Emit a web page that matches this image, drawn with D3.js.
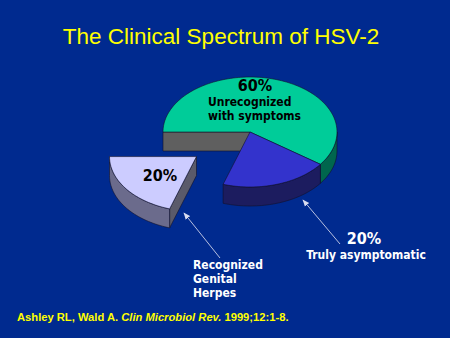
<!DOCTYPE html>
<html>
<head>
<meta charset="utf-8">
<script src="https://cdn.jsdelivr.net/npm/d3@7/dist/d3.min.js"></script>
<style>
  html, body { margin: 0; padding: 0; background: #002a8f; }
  svg { display: block; }
</style>
</head>
<body>
<svg id="chart" width="450" height="338"></svg>
<script>
// Share of HSV-2 infections by clinical presentation
const categories = ["Unrecognized with symptoms", "Truly asymptomatic", "Recognized Genital Herpes"];
const values = [60, 20, 20];
const valueLabels = ["60%", "20%", "20%"];
const exploded = [false, false, true];

// Face colours for each slice: top, outer wall, cut (radial) face
const topColors  = ["#00cc99", "#3333cc", "#ccccff"];
const wallColors = ["#00664d", "#1c1c5f", "#6b6b8c"];
const cutColors  = ["#5f5f5f", "#2a2a60", "#5a5a6a"];

const W = 450, H = 338;
const svg = d3.select("#chart");

svg.append("rect").attr("width", W).attr("height", H).attr("fill", "#002a8f");

// Title
svg.append("text")
  .attr("x", 221).attr("y", 44)
  .attr("text-anchor", "middle")
  .attr("font-family", "'Liberation Sans', Arial, sans-serif")
  .attr("font-size", 22.5)
  .attr("fill", "#ffff00")
  .text("The Clinical Spectrum of HSV-2");

// 3-D pie geometry: a flat circle pie seen at a tilt (ellipse) with thickness
const cx = 250, cy = 132, rx = 87, ry = 55, depth = 19, explodeK = 0.76;

const pie = d3.pie().sort(null).value(d => d)
  .startAngle(Math.PI * 1.5).endAngle(Math.PI * 3.5);
const arcs = pie(values);

// d3 pie angle (0 at 12 o'clock, clockwise) -> parametric ellipse angle
const toT = a => a - Math.PI / 2;
const pt = (ox, oy, t, dz = 0) => [ox + rx * Math.cos(t), oy + ry * Math.sin(t) + dz];

function ellipseArc(ox, oy, t0, t1, dz, steps) {
  const n = steps || Math.max(8, Math.ceil(Math.abs(t1 - t0) / 0.03));
  return d3.range(n + 1).map(i => pt(ox, oy, t0 + (t1 - t0) * i / n, dz));
}

const line = d3.line();
const slices = arcs.map((a, i) => {
  const t0 = toT(a.startAngle), t1 = toT(a.endAngle);
  const mid = (t0 + t1) / 2;
  const ox = cx + (exploded[i] ? Math.cos(mid) * rx * explodeK : 0);
  const oy = cy + (exploded[i] ? Math.sin(mid) * ry * explodeK : 0);
  return { i, t0, t1, mid, ox, oy };
});

const edgeStroke = "#10102a";
const groups = [slices.filter(s => !exploded[s.i]), slices.filter(s => exploded[s.i])];

groups.forEach(group => {
  const g = svg.append("g");
  // radial faces exposed where a neighbour slice has been pulled out
  group.forEach(s => {
    const n = slices.length;
    const prev = slices[(s.i - 1 + n) % n], next = slices[(s.i + 1) % n];
    const faces = [];
    if (exploded[prev.i] !== exploded[s.i] && Math.cos(s.t0) < 0) faces.push(s.t0);
    if (exploded[next.i] !== exploded[s.i] && Math.cos(s.t1) > 0) faces.push(s.t1);
    faces.forEach(t => {
      const p = pt(s.ox, s.oy, t);
      const poly = [[s.ox, s.oy], p, [p[0], p[1] + depth], [s.ox, s.oy + depth]];
      g.append("path").attr("d", line(poly) + "Z")
        .attr("fill", cutColors[s.i]).attr("stroke", edgeStroke).attr("stroke-width", 0.6);
    });
  });
  // outer walls on the front half of the ellipse
  group.forEach(s => {
    [0, 2 * Math.PI].forEach(k => {
      const lo = Math.max(s.t0, k), hi = Math.min(s.t1, k + Math.PI);
      if (hi > lo) {
        const top = ellipseArc(s.ox, s.oy, lo, hi, 0);
        const bot = ellipseArc(s.ox, s.oy, hi, lo, depth);
        g.append("path").attr("d", line(top.concat(bot)) + "Z")
          .attr("fill", wallColors[s.i]).attr("stroke", edgeStroke).attr("stroke-width", 0.6);
      }
    });
  });
  // top faces
  group.forEach(s => {
    const poly = [[s.ox, s.oy]].concat(ellipseArc(s.ox, s.oy, s.t0, s.t1, 0));
    g.append("path").attr("d", line(poly) + "Z")
      .attr("fill", topColors[s.i]).attr("stroke", edgeStroke).attr("stroke-width", 0.6);
  });
});

// Labels
const boldFont = "'DejaVu Sans Condensed', 'DejaVu Sans', Verdana, sans-serif";
function label(x, y, txt, size, fill, anchor) {
  svg.append("text")
    .attr("x", x).attr("y", y)
    .attr("text-anchor", anchor || "start")
    .attr("font-family", boldFont)
    .attr("font-weight", "bold")
    .attr("font-size", size)
    .attr("fill", fill)
    .text(txt);
}

label(255, 91, valueLabels[0], 16, "#000", "middle");
label(208, 106, "Unrecognized", 12, "#000");
label(208, 120, "with symptoms", 12, "#000");

label(160, 181, valueLabels[2], 16, "#000", "middle");

label(364, 244, valueLabels[1], 16, "#ffffff", "middle");
label(366, 259, "Truly asymptomatic", 12, "#ffffff", "middle");

label(193, 269, "Recognized", 12, "#ffffff");
label(193, 283, "Genital", 12, "#ffffff");
label(193, 297, "Herpes", 12, "#ffffff");

// Pointer arrows
const defs = svg.append("defs");
defs.append("marker")
  .attr("id", "head").attr("viewBox", "0 0 10 10")
  .attr("refX", 9).attr("refY", 5)
  .attr("markerWidth", 7).attr("markerHeight", 7)
  .attr("orient", "auto")
  .append("path").attr("d", "M0,1 L10,5 L0,9 Z").attr("fill", "#d8dcf0");

[[220, 258, 184, 213], [340, 244, 303, 200]].forEach(([x1, y1, x2, y2]) => {
  svg.append("line")
    .attr("x1", x1).attr("y1", y1).attr("x2", x2).attr("y2", y2)
    .attr("stroke", "#b8c0e0").attr("stroke-width", 1)
    .attr("marker-end", "url(#head)");
});

// Source reference
const src = svg.append("text")
  .attr("x", 17).attr("y", 321)
  .attr("font-family", "'Liberation Sans', Arial, sans-serif")
  .attr("font-weight", "bold")
  .attr("font-size", 11.2)
  .attr("fill", "#ffff00");
src.append("tspan").text("Ashley RL, Wald A. ");
src.append("tspan").attr("font-style", "italic").text("Clin Microbiol Rev.");
src.append("tspan").text(" 1999;12:1-8.");
</script>
</body>
</html>
